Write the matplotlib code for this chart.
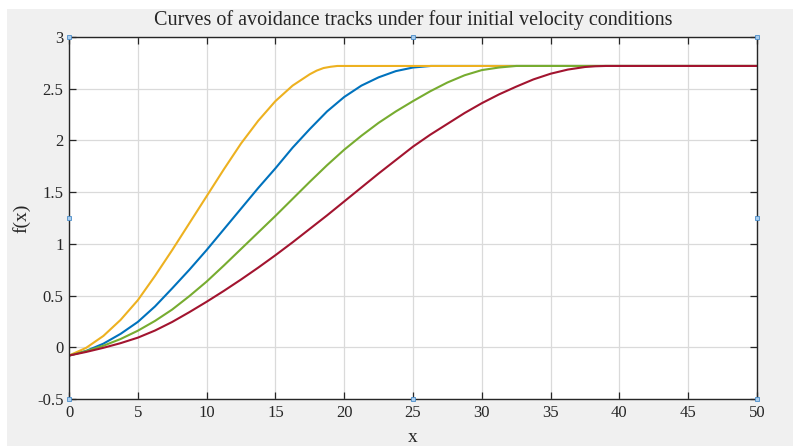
import matplotlib.pyplot as plt
from matplotlib.patches import Rectangle

plt.rcParams['font.family'] = ['Liberation Serif', 'DejaVu Serif']

# values
x_yellow = [0, 1.25, 2.5, 3.75, 5, 6.25, 7.5, 8.75, 10, 11.25, 12.5, 13.75, 15,
            16.25, 17.5, 18, 18.5, 19, 19.5, 50]
y_yellow = [-0.08, -0.005, 0.11, 0.265, 0.455, 0.69, 0.94, 1.20, 1.46, 1.72, 1.97, 2.19, 2.38,
            2.53, 2.64, 2.675, 2.70, 2.712, 2.72, 2.72]

x_blue = [0, 1.25, 2.5, 3.75, 5, 6.25, 7.5, 8.75, 10, 11.25, 12.5, 13.75, 15,
          16.25, 17.5, 18.75, 20, 21.25, 22.5, 23.75, 25, 26.3, 50]
y_blue = [-0.08, -0.035, 0.035, 0.13, 0.245, 0.395, 0.57, 0.75, 0.94, 1.14, 1.34, 1.54, 1.73,
          1.93, 2.11, 2.28, 2.42, 2.53, 2.61, 2.67, 2.705, 2.72, 2.72]

x_green = [0, 1.25, 2.5, 3.75, 5, 6.25, 7.5, 8.75, 10, 11.25, 12.5, 13.75, 15,
           16.25, 17.5, 18.75, 20, 21.25, 22.5, 23.75, 25, 26.25, 27.5, 28.75, 30,
           31.25, 32.5, 50]
y_green = [-0.08, -0.037, 0.015, 0.08, 0.16, 0.255, 0.365, 0.495, 0.635, 0.79, 0.95, 1.11, 1.27,
           1.435, 1.60, 1.76, 1.91, 2.045, 2.17, 2.28, 2.38, 2.475, 2.56, 2.63, 2.68,
           2.705, 2.72, 2.72]

x_red = [0, 1.25, 2.5, 3.75, 5, 6.25, 7.5, 8.75, 10, 11.25, 12.5, 13.75, 15,
         16.25, 17.5, 18.75, 20, 21.25, 22.5, 23.75, 25, 26.25, 27.5, 28.75, 30,
         31.25, 32.5, 33.75, 35, 36.25, 37.5, 38.25, 39, 50]
y_red = [-0.08, -0.045, -0.005, 0.04, 0.093, 0.162, 0.245, 0.34, 0.44, 0.545, 0.655, 0.77, 0.89,
         1.015, 1.145, 1.275, 1.41, 1.545, 1.68, 1.81, 1.94, 2.055, 2.16, 2.265, 2.36,
         2.445, 2.52, 2.59, 2.645, 2.685, 2.71, 2.717, 2.72, 2.72]

x_ticks = list(range(0, 51, 5))
y_ticks = [-0.5, 0, 0.5, 1, 1.5, 2, 2.5, 3]
y_ticklabels = ['-0.5', '0', '0.5', '1', '1.5', '2', '2.5', '3']

fig = plt.figure(figsize=(7.93, 4.46), dpi=100, facecolor='white')
# grey figure panel (white strip at top and left like the screenshot)
fig.patches.append(Rectangle((7 / 793, 0), 1, 1 - 9 / 446, transform=fig.transFigure,
                             facecolor='#f0f0f0', edgecolor='none', zorder=-10))

ax = fig.add_axes([69 / 793, 1 - 399 / 446, (757 - 69) / 793, (399 - 37) / 446])
ax.set_facecolor('white')

ax.plot(x_blue, y_blue, color='#0072BD', lw=1.5)
ax.plot(x_yellow, y_yellow, color='#EDB120', lw=1.5)
ax.plot(x_green, y_green, color='#77AC30', lw=1.5)
ax.plot(x_red, y_red, color='#A2142F', lw=1.5)

ax.set_xlim(0, 50)
ax.set_ylim(-0.5, 3)
ax.set_xticks(x_ticks)
ax.set_yticks(y_ticks)
ax.set_yticklabels(y_ticklabels)
ax.grid(True, color='#dadada', lw=0.9)
ax.set_axisbelow(True)

for s in ax.spines.values():
    s.set_color('#262626')
    s.set_linewidth(1.0)
ax.tick_params(direction='in', length=5, width=0.9, color='#262626',
               top=True, right=True, labelsize=12, labelcolor='#262626', pad=4)

ax.set_title('Curves of avoidance tracks under four initial velocity conditions',
             fontsize=14.5, color='#262626', pad=9)
ax.set_xlabel('x', fontsize=14, color='#262626', labelpad=6)
ax.set_ylabel('f(x)', fontsize=14, color='#262626', labelpad=5)

# little selection handles on the axes box
hx = [0, 0.5, 1, 0, 1, 0, 0.5, 1]
hy = [1, 1, 1, 0.5, 0.5, 0, 0, 0]
ax.plot(hx, hy, 's', ms=2.5, mfc='#a9cdee', mec='#4a8cc8', mew=0.6,
        transform=ax.transAxes, clip_on=False, zorder=5)

fig.savefig('out.png', dpi=100, facecolor=fig.get_facecolor())
